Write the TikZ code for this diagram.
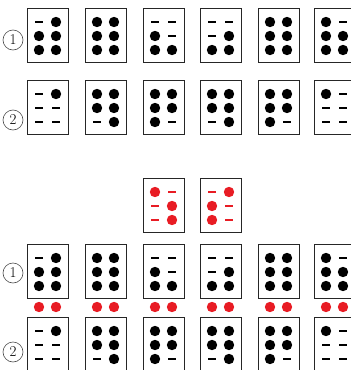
\documentclass[tikz,border=0pt]{standalone}
\usepackage{tikz}
\definecolor{bred}{RGB}{232,28,36}
\tikzset{
  cellbox/.style={draw=black!85, line width=0.8pt, minimum width=41pt, minimum height=54pt, inner sep=0pt},
  numcirc/.style={draw=black!70, circle, line width=0.6pt, minimum size=20pt, inner sep=0pt, font=\fontsize{15}{15}\selectfont},
}
% #1 name, #2 left x, #3 top y, #4 pattern, #5 colour
\newcommand\bcell[5]{%
  \node[cellbox] (#1) at (#2+20.5,#3+27) {};
  \foreach \v [count=\i from 0] in {#4} {
    \pgfmathtruncatemacro\cc{div(\i,3)}
    \pgfmathtruncatemacro\rr{mod(\i,3)}
    \pgfmathsetmacro\px{#2+12+17*\cc}
    \pgfmathsetmacro\py{#3+14+14*\rr}
    \ifnum\v=1 \fill[#5] (\px,\py) circle (5.2pt);
    \else \draw[#5, line width=1.8pt] (\px-3.8,\py) -- (\px+3.8,\py); \fi
  }
}
\newcommand\rpair[3]{%
  \fill[bred] (#2+12,#3) circle (5.2pt);
  \fill[bred] (#2+29,#3) circle (5.2pt);
  \coordinate (#1) at (#2+20.5,#3);
}
\begin{document}
\begin{tikzpicture}[x=1pt,y=-1pt]
\useasboundingbox (0,0) rectangle (351,370);
\clip (0,0) rectangle (351,370);
% top section
\node[numcirc] (ta) at (13,40) {1};
\node[numcirc] (tb) at (13,120) {2};
\bcell{a1}{27}{8}{0,1,1,1,1,1}{black}
\bcell{a2}{85}{8}{1,1,1,1,1,1}{black}
\bcell{a3}{143}{8}{0,1,1,0,0,1}{black}
\bcell{a4}{200}{8}{0,0,1,0,1,1}{black}
\bcell{a5}{258}{8}{1,1,1,1,1,1}{black}
\bcell{a6}{314}{8}{1,1,1,0,1,1}{black}
\bcell{b1}{27}{80}{0,0,0,1,0,0}{black}
\bcell{b2}{85}{80}{1,1,0,1,1,1}{black}
\bcell{b3}{143}{80}{1,1,1,1,1,0}{black}
\bcell{b4}{200}{80}{1,1,0,1,1,1}{black}
\bcell{b5}{258}{80}{1,1,1,1,1,0}{black}
\bcell{b6}{314}{80}{1,0,0,0,0,0}{black}
% red cells
\bcell{r1}{143}{178}{1,0,0,0,1,1}{bred}
\bcell{r2}{200}{178}{0,1,1,1,0,0}{bred}
% bottom section
\node[numcirc] (ba) at (13,273) {1};
\node[numcirc] (bb) at (13,352) {2};
\bcell{c1}{27}{244}{0,1,1,1,1,1}{black}
\bcell{c2}{85}{244}{1,1,1,1,1,1}{black}
\bcell{c3}{143}{244}{0,1,1,0,0,1}{black}
\bcell{c4}{200}{244}{0,0,1,0,1,1}{black}
\bcell{c5}{258}{244}{1,1,1,1,1,1}{black}
\bcell{c6}{314}{244}{1,1,1,0,1,1}{black}
\rpair{p1}{27}{307}
\rpair{p2}{85}{307}
\rpair{p3}{143}{307}
\rpair{p4}{200}{307}
\rpair{p5}{258}{307}
\rpair{p6}{314}{307}
\bcell{d1}{27}{317}{0,0,0,1,0,0}{black}
\bcell{d2}{85}{317}{1,1,0,1,1,1}{black}
\bcell{d3}{143}{317}{1,1,1,1,1,0}{black}
\bcell{d4}{200}{317}{1,1,0,1,1,1}{black}
\bcell{d5}{258}{317}{1,1,1,1,1,0}{black}
\bcell{d6}{314}{317}{1,0,0,0,0,0}{black}
\end{tikzpicture}
\end{document}
